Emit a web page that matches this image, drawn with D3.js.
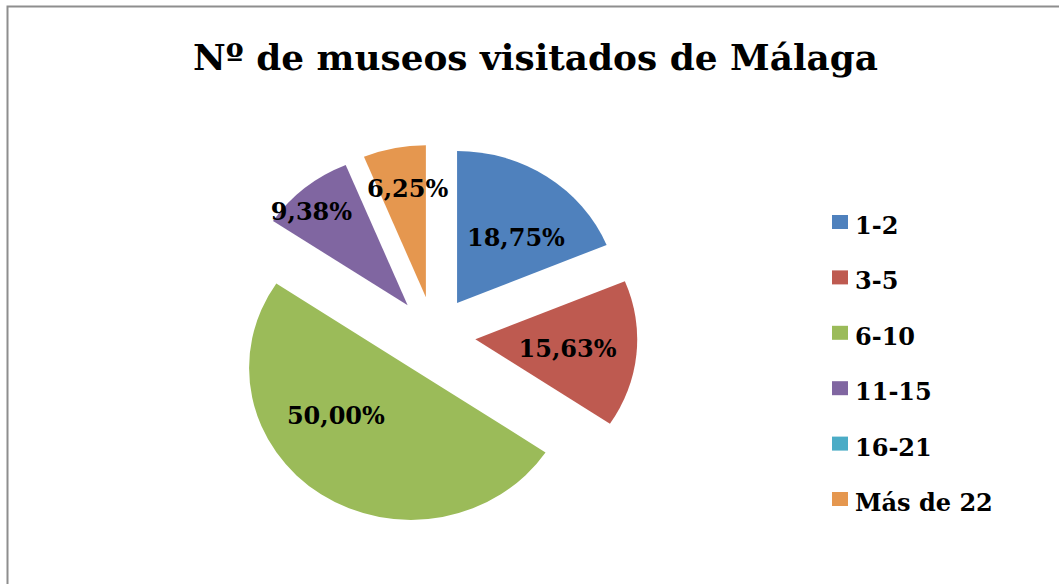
<!DOCTYPE html>
<html>
<head>
<meta charset="utf-8">
<script src="https://cdn.jsdelivr.net/npm/d3@7"></script>
<style>
  html, body { margin: 0; padding: 0; background: #fff; }
  svg { display: block; }
  text { font-family: "DejaVu Serif", "Liberation Serif", serif; font-weight: bold; fill: #000; }
</style>
</head>
<body>
<script>
// Survey: how many Málaga museums each respondent has visited
const title = "Nº de museos visitados de Málaga";
const categories = ["1-2", "3-5", "6-10", "11-15", "16-21", "Más de 22"];
const shares = [18.75, 15.63, 50.00, 9.38, 0, 6.25];
const colors = ["#4F81BD", "#BE5A50", "#9BBB59", "#8066A1", "#4BACC6", "#E5974F"];

// Label placement inside each exploded slice: radius and bearing (deg) from the slice vertex
const labelPlacement = [
  { r: 86, a: 40 },
  { r: 87, a: 96 },
  { r: 85, a: 236 },
  { r: 130, a: 316 },
  { r: 0, a: 0 },
  { r: 110, a: 351 }
];

const W = 1059, H = 584;
const svg = d3.select("body").append("svg").attr("width", W).attr("height", H);

// chart frame
svg.append("rect")
  .attr("x", 7.5).attr("y", 6.5)
  .attr("width", W + 10).attr("height", H + 10)
  .attr("fill", "#fff").attr("stroke", "#8e8e8e").attr("stroke-width", 2);

// title, condensed to the chart's title width
const titleText = svg.append("text")
  .attr("x", 535.5).attr("y", 69.5)
  .attr("text-anchor", "middle")
  .attr("font-size", 36)
  .text(title);
const titleWidth = 685;
if (titleText.node().getComputedTextLength() > titleWidth) {
  titleText.attr("textLength", titleWidth).attr("lengthAdjust", "spacingAndGlyphs");
}

// pie geometry
const cx = 434, cy = 335.5, sx = 1.065;
const radius = 152, explode = 39;

const pie = d3.pie().sort(null).value(d => d).startAngle(0).endAngle(2 * Math.PI);
const arcs = pie(shares);
const arc = d3.arc().innerRadius(0).outerRadius(radius);

const pieG = svg.append("g").attr("transform", `translate(${cx},${cy}) scale(${sx},1)`);

pieG.selectAll("path")
  .data(arcs)
  .join("path")
  .attr("transform", d => {
    const mid = (d.startAngle + d.endAngle) / 2;
    return `translate(${explode * Math.sin(mid)},${-explode * Math.cos(mid)})`;
  })
  .attr("d", arc)
  .attr("fill", (d, i) => colors[i]);

// data labels
const fmt = v => d3.format(".2f")(v).replace(".", ",") + "%";
svg.append("g").selectAll("text")
  .data(arcs.filter(d => d.value > 0))
  .join("text")
  .attr("x", d => {
    const mid = (d.startAngle + d.endAngle) / 2;
    const p = labelPlacement[d.index];
    const a = p.a * Math.PI / 180;
    return cx + sx * (explode * Math.sin(mid) + p.r * Math.sin(a));
  })
  .attr("y", d => {
    const mid = (d.startAngle + d.endAngle) / 2;
    const p = labelPlacement[d.index];
    const a = p.a * Math.PI / 180;
    return cy - explode * Math.cos(mid) - p.r * Math.cos(a);
  })
  .attr("text-anchor", "middle")
  .attr("dominant-baseline", "central")
  .attr("font-size", 24)
  .text(d => fmt(d.value));

// legend
const legend = svg.append("g").attr("transform", "translate(832,222)");
const rows = legend.selectAll("g")
  .data(categories)
  .join("g")
  .attr("transform", (d, i) => `translate(0,${i * 55.4})`);
rows.append("rect")
  .attr("x", 0).attr("y", -7)
  .attr("width", 16).attr("height", 14)
  .attr("fill", (d, i) => colors[i]);
rows.append("text")
  .attr("x", 23).attr("y", 12)
  .attr("font-size", 24)
  .text(d => d);
</script>
</body>
</html>
